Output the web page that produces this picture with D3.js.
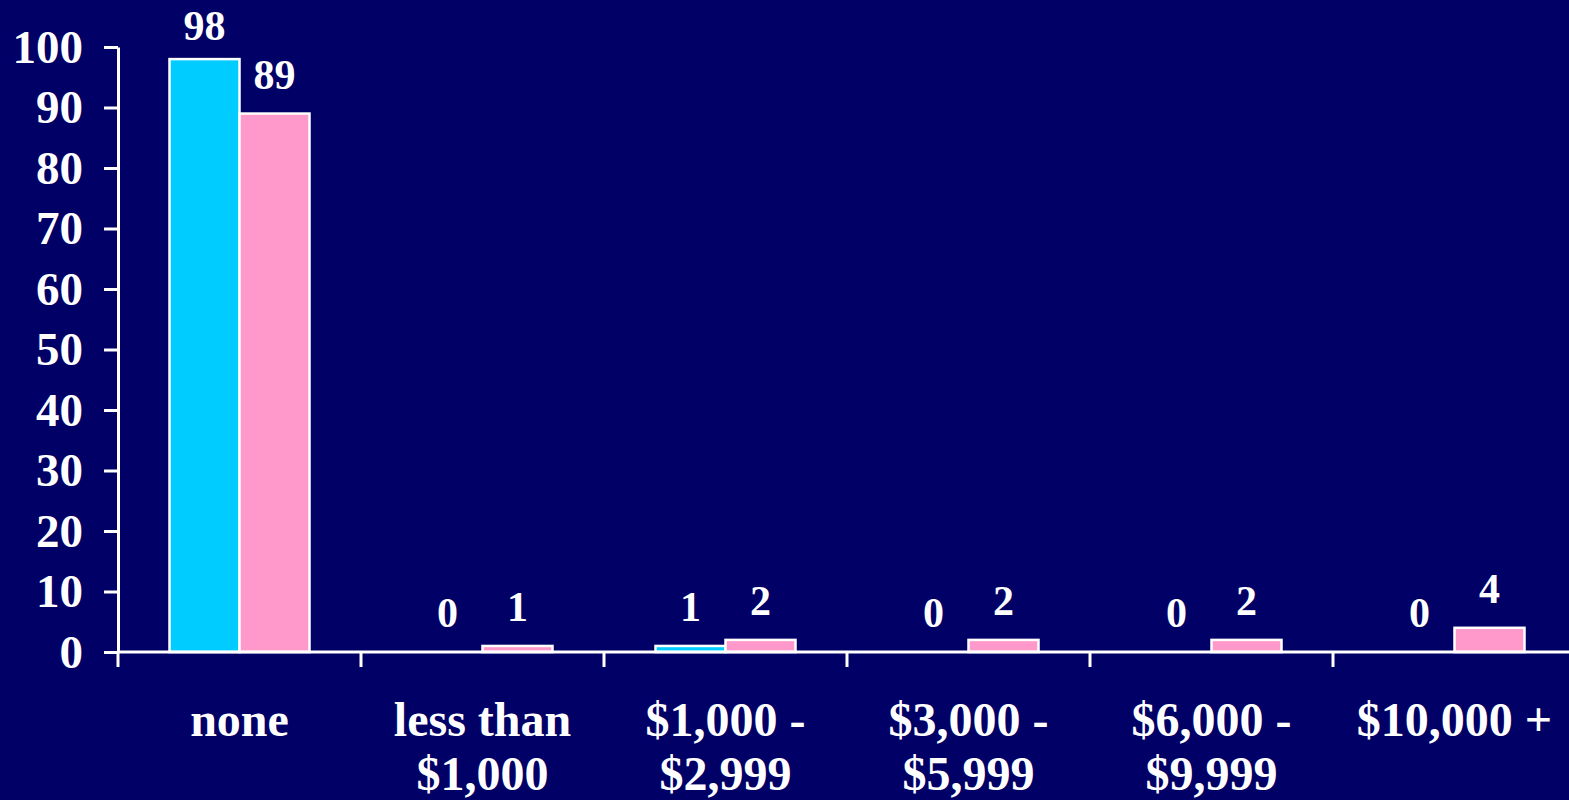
<!DOCTYPE html>
<html>
<head>
<meta charset="utf-8">
<script src="https://cdn.jsdelivr.net/npm/d3@7"></script>
<style>
  html, body { margin: 0; padding: 0; background: #000066; }
  svg { display: block; }
  text { font-family: "Liberation Serif", "Times New Roman", serif; font-weight: bold; fill: #ffffff; }
</style>
</head>
<body>
<svg id="chart" width="1569" height="800"></svg>
<script>
const categories = ["none", "less than $1,000", "$1,000 - $2,999", "$3,000 - $5,999", "$6,000 - $9,999", "$10,000 +"];
const categoryLines = [["none"], ["less than", "$1,000"], ["$1,000 -", "$2,999"], ["$3,000 -", "$5,999"], ["$6,000 -", "$9,999"], ["$10,000 +"]];
const seriesNames = ["series1", "series2"];
const series1 = [98, 0, 1, 0, 0, 0];
const series2 = [89, 1, 2, 2, 2, 4];
const yTicks = [0, 10, 20, 30, 40, 50, 60, 70, 80, 90, 100];
const colors = ["#00CCFF", "#FF99CC"];

(function () {
const svg = d3.select("#chart");
svg.append("rect").attr("width", 1569).attr("height", 800).attr("fill", "#000066");

const plotLeft = 118, plotTop = 47, plotBottom = 652, step = 243;
const x = d3.scaleBand().domain(categories).range([plotLeft, plotLeft + step * categories.length]).padding(0);
const y = d3.scaleLinear().domain([0, 100]).range([plotBottom, plotTop]);
const groupW = 140;
const xSub = d3.scaleBand().domain(seriesNames).range([0, groupW]).padding(0);

// bars
const data = categories.map((c, i) => ({ c, vals: [series1[i], series2[i]] }));
const g = svg.append("g");
data.forEach(d => {
  d.vals.forEach((v, j) => {
    const bx = x(d.c) + (x.bandwidth() - groupW) / 2 + xSub(seriesNames[j]);
    if (v > 0) {
      g.append("rect")
        .attr("x", bx).attr("y", y(v))
        .attr("width", xSub.bandwidth()).attr("height", y(0) - y(v))
        .attr("fill", colors[j]).attr("stroke", "#ffffff").attr("stroke-width", 2.5);
    }
    g.append("text")
      .attr("x", bx + xSub.bandwidth() / 2)
      .attr("y", Math.max(y(v) - 25, 40))
      .attr("text-anchor", "middle")
      .attr("font-size", 42)
      .text(v);
  });
});

// y axis
const yAxis = d3.axisLeft(y).tickValues(yTicks).tickSize(14).tickSizeOuter(0).tickPadding(21);
const ya = svg.append("g").attr("transform", `translate(${plotLeft},0)`).call(yAxis);
ya.select(".domain").attr("stroke", "#ffffff").attr("stroke-width", 3);
ya.selectAll(".tick line").attr("stroke", "#ffffff").attr("stroke-width", 3);
ya.selectAll(".tick text").attr("font-size", 47).attr("fill", "#ffffff")
  .style("font-family", '"Liberation Serif", "Times New Roman", serif').style("font-weight", "bold");

// x axis line + ticks at band boundaries
svg.append("line").attr("x1", plotLeft).attr("x2", 1569).attr("y1", y(0)).attr("y2", y(0))
  .attr("stroke", "#ffffff").attr("stroke-width", 3);
svg.append("g").selectAll("line").data(categories).join("line")
  .attr("x1", d => x(d)).attr("x2", d => x(d))
  .attr("y1", y(0)).attr("y2", y(0) + 15)
  .attr("stroke", "#ffffff").attr("stroke-width", 3);

// category labels
const lab = svg.append("g").selectAll("text").data(categories).join("text")
  .attr("text-anchor", "middle")
  .attr("font-size", 48)
  .attr("x", d => x(d) + x.bandwidth() / 2)
  .attr("y", 736);
lab.each(function(d, i) {
  const t = d3.select(this);
  categoryLines[i].forEach((ln, k) => {
    t.append("tspan").attr("x", x(d) + x.bandwidth() / 2).attr("y", 736 + k * 54).text(ln);
  });
});
})();
</script>
</body>
</html>
